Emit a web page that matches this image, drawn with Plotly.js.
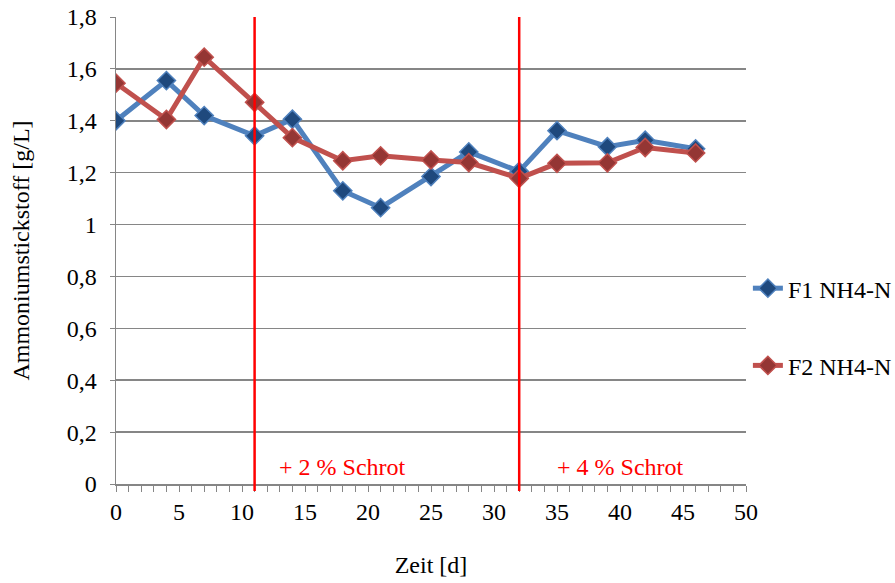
<!DOCTYPE html>
<html>
<head>
<meta charset="utf-8">
<script src="https://cdn.plot.ly/plotly-3.0.1.min.js"></script>
<style>html,body{margin:0;padding:0;background:#fff;}#chart{width:895px;height:583px;}</style>
</head>
<body>
<div id="chart"></div>
<script>
var days = [0, 4, 7, 11, 14, 18, 21, 25, 28, 32, 35, 39, 42, 46];
var f1 = [1.40, 1.555, 1.42, 1.342, 1.406, 1.13, 1.065, 1.185, 1.28, 1.205, 1.362, 1.30, 1.325, 1.292];
var f2 = [1.545, 1.405, 1.645, 1.471, 1.335, 1.246, 1.265, 1.249, 1.239, 1.178, 1.236, 1.238, 1.297, 1.276];
var seriesNames = ["F1 NH4-N", "F2 NH4-N"];
var eventDays = [11, 32];
var eventLabels = ["+ 2 % Schrot", "+ 4 % Schrot"];
var eventLabelX = [18, 40];
var yTicks = [0, 0.2, 0.4, 0.6, 0.8, 1, 1.2, 1.4, 1.6, 1.8];

var font = "Times New Roman";
var fs = 24;

var traces = [
  {x: days, y: f1, name: seriesNames[0], type: "scatter", mode: "lines+markers", legendgroup: "a",
   line: {color: "#4F81BD", width: 5},
   marker: {symbol: "diamond", size: 14, color: "#1F497D", line: {color: "#4F81BD", width: 1.5}}},
  {x: days, y: f2, name: seriesNames[1], type: "scatter", mode: "lines+markers", legendgroup: "b",
   line: {color: "#C0504D", width: 5},
   marker: {symbol: "diamond", size: 14, color: "#943634", line: {color: "#C0504D", width: 1.5}}}
];

var shapes = eventDays.map(function(d){
  return {type: "line", xref: "x", yref: "paper", x0: d, x1: d, y0: -0.015, y1: 1,
          line: {color: "#FF0000", width: 2.5}};
});
var annotations = eventLabels.map(function(t, i){
  return {text: t, xref: "x", yref: "y", x: eventLabelX[i], y: 0.065, showarrow: false,
          font: {family: font, size: fs, color: "#FF0000"}};
});

var layout = {
  width: 895, height: 583,
  margin: {l: 116, r: 149, t: 17, b: 99, autoexpand: false},
  paper_bgcolor: "#fff", plot_bgcolor: "#fff",
  separators: ",.",
  font: {family: font, size: fs, color: "#000"},
  showlegend: true,
  legend: {x: 1.003, y: 0.336, xanchor: "left", yanchor: "middle", tracegroupgap: 43,
           traceorder: "grouped", font: {family: font, size: fs, color: "#000"},
           bgcolor: "rgba(0,0,0,0)", itemwidth: 30},
  xaxis: {range: [0, 50], tickvals: [0,5,10,15,20,25,30,35,40,45,50], showgrid: false, zeroline: false,
          showline: true, linecolor: "#868686", linewidth: 1.5,
          ticks: "outside", ticklen: 6, tickcolor: "#868686", tickwidth: 1,
          minor: {dtick: 1, ticks: "outside", ticklen: 6, tickcolor: "#868686", tickwidth: 1, showgrid: false},
          tickfont: {family: font, size: fs, color: "#000"},
          title: {text: "Zeit [d]", font: {family: font, size: fs, color: "#000"}, standoff: 32}},
  yaxis: {range: [0, 1.8], tickvals: yTicks, showgrid: true, gridcolor: "#868686", gridwidth: 1.5,
          zeroline: false, showline: true, linecolor: "#868686", linewidth: 1.5,
          ticks: "outside", ticklen: 5, tickcolor: "#868686", ticklabelstandoff: 8,
          tickfont: {family: font, size: fs, color: "#000"},
          title: {text: "Ammoniumstickstoff [g/L]", font: {family: font, size: fs, color: "#000"}, standoff: 30}},
  shapes: shapes,
  annotations: annotations
};

Plotly.newPlot("chart", traces, layout, {displayModeBar: false, staticPlot: true});
</script>
</body>
</html>
